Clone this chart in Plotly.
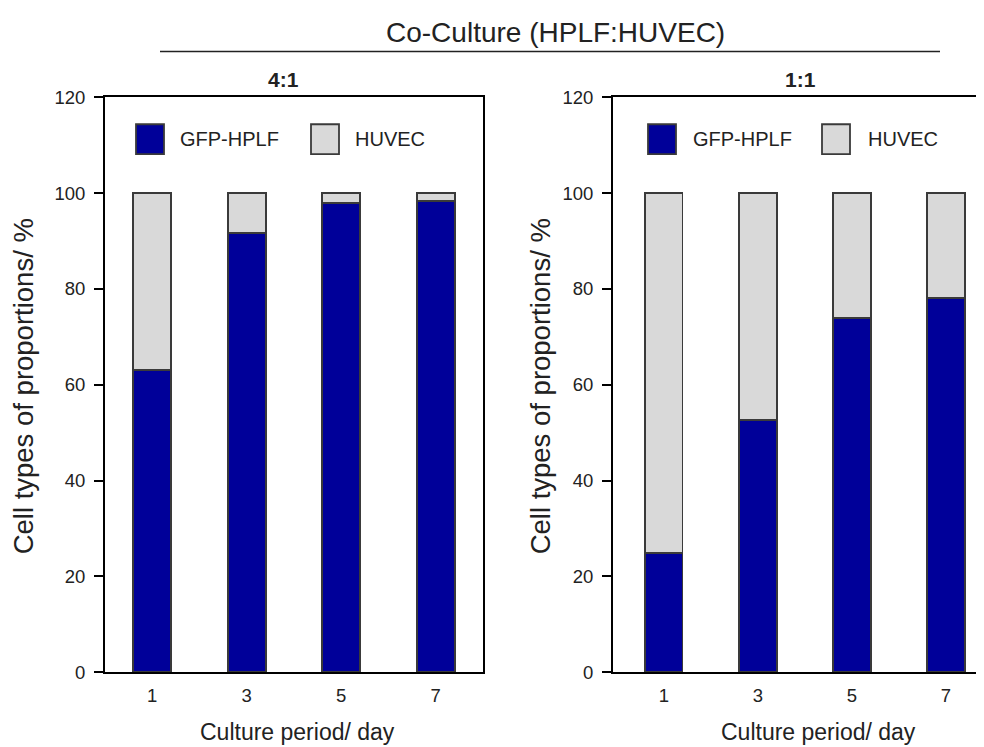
import plotly.graph_objects as go

days = ["1", "3", "5", "7"]
gfp_41 = [63, 91.7, 97.9, 98.3]
huvec_41 = [100 - v for v in gfp_41]
gfp_11 = [24.8, 52.7, 74.0, 78.1]
huvec_11 = [100 - v for v in gfp_11]
y_ticks = [0, 20, 40, 60, 80, 100, 120]
series_names = ["GFP-HPLF", "HUVEC"]
panel_titles = ["4:1", "1:1"]
main_title = "Co-Culture (HPLF:HUVEC)"
x_title = "Culture period/ day"
y_title = "Cell types of proportions/ %"

BLUE = "#000099"
GRAY = "#D9D9D9"
EDGE = "#3a3a3a"
FONT = "Liberation Sans, Arial, sans-serif"

fig = go.Figure()
for xa, ya, g, h in [("x", "y", gfp_41, huvec_41), ("x2", "y2", gfp_11, huvec_11)]:
    fig.add_trace(go.Bar(x=days, y=g, name=series_names[0], marker=dict(color=BLUE, line=dict(color=EDGE, width=1.8)),
                         width=0.4, xaxis=xa, yaxis=ya, showlegend=False))
    fig.add_trace(go.Bar(x=days, y=h, name=series_names[1], marker=dict(color=GRAY, line=dict(color=EDGE, width=1.8)),
                         width=0.4, xaxis=xa, yaxis=ya, showlegend=False))

W, H = 984, 747
def px(x):
    return x / W
def py(y):
    return 1 - y / H

ydom = [py(672), py(80.6)]
common_y = dict(range=[0, 120], tickvals=y_ticks, ticks="outside", ticklen=9, tickwidth=2, tickcolor="black",
                showline=True, linecolor="black", linewidth=2, showgrid=False, zeroline=False,
                ticklabelstandoff=5,
                tickfont=dict(family=FONT, size=18.5, color="#222"))
common_x = dict(type="category", showline=True, linecolor="black", linewidth=2, showgrid=False, ticks="",
                ticklabelstandoff=6,
                tickfont=dict(family=FONT, size=18.5, color="#222"))

fig.update_layout(
    width=W, height=H, margin=dict(l=0, r=0, t=0, b=0),
    paper_bgcolor="white", plot_bgcolor="white", barmode="stack", showlegend=False,
    xaxis=dict(domain=[px(97), px(475)], range=[-0.5, 3.5], mirror=True, anchor="y", **common_x),
    yaxis=dict(domain=ydom, mirror=True, anchor="x", **common_y),
    xaxis2=dict(domain=[px(605), 1.0], range=[-0.54, 3.49], mirror=True, anchor="y2", **common_x),
    yaxis2=dict(domain=ydom, mirror=False, anchor="x2", **common_y),
)

ann = []
ann.append(dict(text=main_title, x=px(547), y=py(14), xref="paper", yref="paper", showarrow=False,
                font=dict(family=FONT, size=28, color="#222"), xanchor="center", yanchor="middle"))
ann.append(dict(text="<b>" + panel_titles[0] + "</b>", x=px(275), y=py(62), xref="paper", yref="paper", showarrow=False,
                font=dict(family=FONT, size=21, color="#222"), xanchor="center", yanchor="middle"))
ann.append(dict(text="<b>" + panel_titles[1] + "</b>", x=px(792), y=py(62), xref="paper", yref="paper", showarrow=False,
                font=dict(family=FONT, size=21, color="#222"), xanchor="center", yanchor="middle"))
for xc in [289, 810]:
    ann.append(dict(text=x_title, x=px(xc), y=py(734), xref="paper", yref="paper", showarrow=False,
                    font=dict(family=FONT, size=23, color="#222"), xanchor="center", yanchor="middle"))
for xc in [15, 532]:
    ann.append(dict(text=y_title, x=px(xc), y=py(378), xref="paper", yref="paper", showarrow=False, textangle=-90,
                    font=dict(family=FONT, size=27.5, color="#222"), xanchor="center", yanchor="middle"))

shapes = [dict(type="line", xref="paper", yref="paper", x0=px(152), x1=px(932), y0=py(33.4), y1=py(33.4),
               line=dict(color="#222", width=1.5))]
# legend boxes
legend_pos = [(128, 170, 303, 345), (640, 683, 814, 858)]
for (b1, t1, b2, t2) in legend_pos:
    for bx, tx, col, name in [(b1, t1, BLUE, series_names[0]), (b2, t2, GRAY, series_names[1])]:
        shapes.append(dict(type="rect", xref="paper", yref="paper", x0=px(bx), x1=px(bx + 28), y0=py(139), y1=py(108.3),
                           fillcolor=col, line=dict(color=EDGE, width=1.8)))
        ann.append(dict(text=name, x=px(tx), y=py(123.7), xref="paper", yref="paper", showarrow=False,
                        font=dict(family=FONT, size=20, color="#222"), xanchor="left", yanchor="middle"))

fig.update_layout(annotations=ann, shapes=shapes)
fig.write_html("out.html")
